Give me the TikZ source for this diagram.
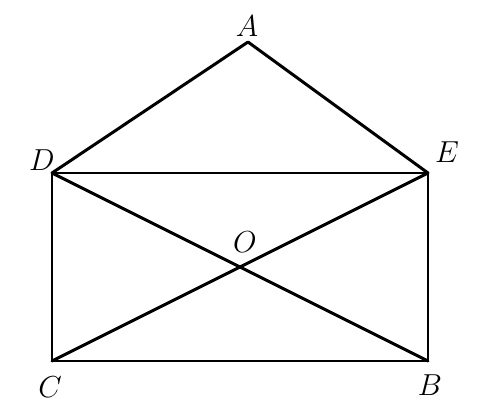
\documentclass[tikz,border=0pt]{standalone}
\usepackage{amssymb,amsmath}
\usepackage{tikz}
\usetikzlibrary{calc}

\begin{document}
\begin{tikzpicture}[x=0.02cm,y=0.02cm,line width=1.7pt,line join=round,cap=round]
\useasboundingbox (0,0) rectangle (485,410);
% the corners of the figure
\coordinate (A) at (248,368);
\coordinate (D) at (52,237);
\coordinate (E) at (428,237);
\coordinate (C) at (52,49);
\coordinate (B) at (428,49);
\coordinate (O) at (intersection of D--B and E--C);

% draw the roof and the rectangle
\draw (D) -- (A) -- (E);
\draw (D) -- (E) -- (B) -- (C) -- cycle;

% draw the diagonals
\draw (D) -- (B);
\draw (E) -- (C);

% label each point
\foreach \p/\x/\y in {
	A/247/384,
	D/42/250,
	E/447/258,
	C/50/23,
	B/430/25,
	O/245/168}
\node (l\p) at (\x,\y) {\fontsize{18.5}{22}\selectfont$\p$};
\end{tikzpicture}
\end{document}
